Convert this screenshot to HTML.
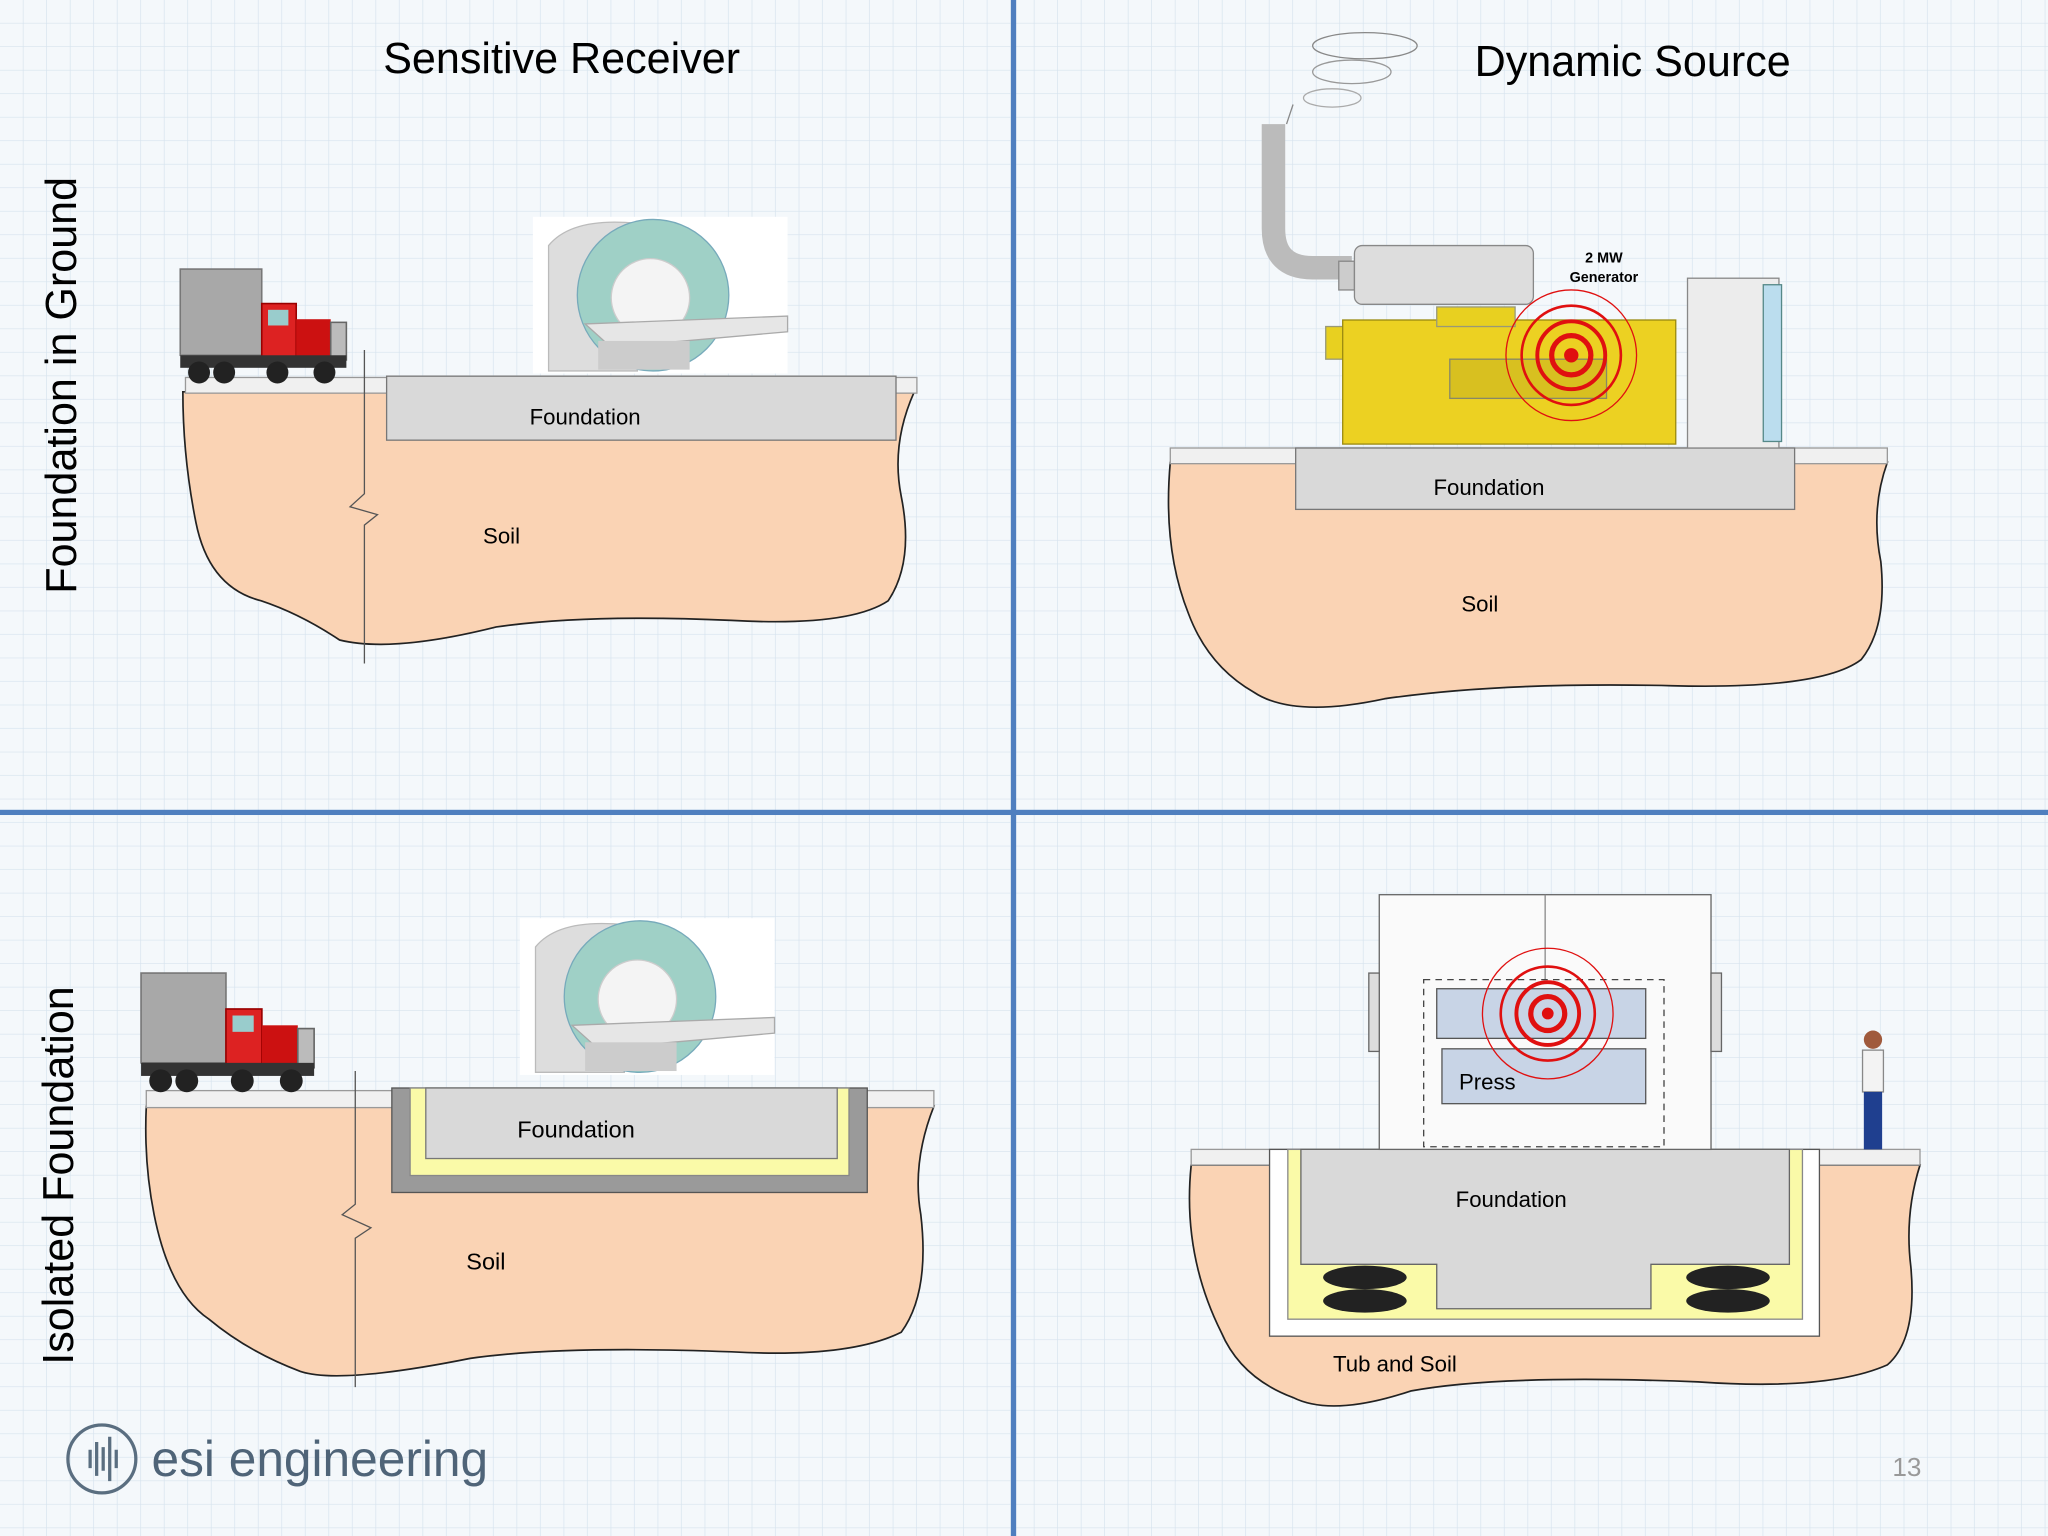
<!DOCTYPE html>
<html><head><meta charset="utf-8"><style>
html,body{margin:0;padding:0;background:#fff;}
svg{display:block}
text{font-family:"Liberation Sans",sans-serif}
</style></head><body>
<svg width="2048" height="1536" viewBox="0 0 1568 1176" xmlns="http://www.w3.org/2000/svg">
<defs>
<pattern id="g" width="18" height="18" patternUnits="userSpaceOnUse">
<rect width="18" height="18" fill="#f4f8fb"/>
<path d="M18 0V18M0 18H18" stroke="#d6e3ee" stroke-width="1"/>
</pattern>
<g id="truck">
<rect x="0" y="0" width="52" height="55" fill="#a8a8a8" stroke="#777"/>
<rect x="52" y="22" width="22" height="36" fill="#d22" stroke="#900"/>
<rect x="56" y="26" width="13" height="10" fill="#9cc"/>
<rect x="74" y="32" width="22" height="26" fill="#c11"/>
<rect x="96" y="34" width="10" height="24" fill="#bbb" stroke="#666"/>
<rect x="0" y="55" width="106" height="8" fill="#333"/>
<circle cx="12" cy="66" r="7" fill="#222"/><circle cx="28" cy="66" r="7" fill="#222"/>
<circle cx="62" cy="66" r="7" fill="#222"/><circle cx="92" cy="66" r="7" fill="#222"/>
</g>
<g id="mri">
<rect x="0" y="0" width="195" height="120" fill="#fff"/>
<path d="M12 22 Q30 0 80 5 L80 118 L12 118 Z" fill="#ddd" stroke="#bbb"/>
<circle cx="92" cy="60" r="58" fill="#9fd0c6" stroke="#7ab"/>
<circle cx="90" cy="62" r="30" fill="#f4f4f4" stroke="#ccc"/>
<path d="M40 82 L195 76 L195 88 L60 100 Z" fill="#e6e6e6" stroke="#aaa"/>
<rect x="50" y="95" width="70" height="22" fill="#ccc"/>
</g>
</defs>
<rect width="1568" height="1176" fill="url(#g)"/>
<rect x="774" y="0" width="4" height="1176" fill="#4f7fbf"/>
<rect x="0" y="620" width="1568" height="4" fill="#4f7fbf"/>

<text x="430" y="56" font-size="33" text-anchor="middle">Sensitive Receiver</text>
<text x="1250" y="58" font-size="33" text-anchor="middle">Dynamic Source</text>
<text transform="translate(58,295) rotate(-90)" font-size="33" text-anchor="middle">Foundation in Ground</text>
<text transform="translate(56,900) rotate(-90)" font-size="33" text-anchor="middle">Isolated Foundation</text>

<!-- Top-left -->
<path d="M140 300 L700 300 Q682 340 690 380 Q700 430 680 460 Q650 480 560 475 Q450 470 380 480 Q300 500 260 490 Q230 470 200 460 Q160 450 150 400 Q140 350 140 300Z" fill="#fad3b4" stroke="#222" stroke-width="1.3"/>
<rect x="142" y="289" width="560" height="12" fill="#f0f0f0" stroke="#999"/>
<rect x="296" y="288" width="390" height="49" fill="#d9d9d9" stroke="#777"/>
<text x="448" y="325" font-size="17" text-anchor="middle">Foundation</text>
<text x="384" y="416" font-size="17" text-anchor="middle">Soil</text>
<path d="M279 268 V378 L268 388 L289 394 L279 402 V508" fill="none" stroke="#555"/>
<use href="#truck" transform="translate(138,206) scale(1.2)"/>
<use href="#mri" x="408" y="166"/>

<!-- Top-right -->
<path d="M896 354 L1445 354 Q1432 390 1440 430 Q1445 480 1425 505 Q1395 528 1280 525 Q1150 522 1060 535 Q990 550 960 530 Q925 510 910 470 Q890 420 896 354Z" fill="#fad3b4" stroke="#222" stroke-width="1.3"/>
<rect x="896" y="343" width="549" height="12" fill="#f0f0f0" stroke="#999"/>
<rect x="992" y="343" width="382" height="47" fill="#d9d9d9" stroke="#777"/>
<text x="1140" y="379" font-size="17" text-anchor="middle">Foundation</text>
<text x="1133" y="468" font-size="17" text-anchor="middle">Soil</text>
<path d="M975 95 V175 Q975 205 1005 205 H1035" fill="none" stroke="#bbb" stroke-width="18"/>
<rect x="1025" y="200" width="12" height="22" fill="#ccc" stroke="#888"/>
<rect x="1037" y="188" width="137" height="45" rx="6" fill="#ddd" stroke="#888"/>
<ellipse cx="1045" cy="35" rx="40" ry="10" fill="none" stroke="#888"/>
<ellipse cx="1035" cy="55" rx="30" ry="9" fill="none" stroke="#999"/>
<ellipse cx="1020" cy="75" rx="22" ry="7" fill="none" stroke="#aaa"/>
<line x1="990" y1="80" x2="985" y2="95" stroke="#888"/>
<rect x="1015" y="250" width="40" height="25" fill="#e8d020" stroke="#997"/>
<rect x="1028" y="245" width="255" height="95" fill="#ecd122" stroke="#9a8a10"/>
<rect x="1100" y="235" width="60" height="15" fill="#e8d020" stroke="#997"/>
<rect x="1110" y="275" width="120" height="30" fill="#d8c020" stroke="#886"/>
<rect x="1292" y="213" width="70" height="130" fill="#ececec" stroke="#888"/>
<rect x="1350" y="218" width="14" height="120" fill="#bde" stroke="#588"/>
<text x="1228" y="201" font-size="11" font-weight="bold" text-anchor="middle">2 MW</text>
<text x="1228" y="216" font-size="11" font-weight="bold" text-anchor="middle">Generator</text>
<g fill="none" stroke="#e01010">
<circle cx="1203" cy="272" r="50" stroke-width="1"/>
<circle cx="1203" cy="272" r="38" stroke-width="2"/>
<circle cx="1203" cy="272" r="26" stroke-width="3"/>
<circle cx="1203" cy="272" r="15" stroke-width="4"/>
<circle cx="1203" cy="272" r="5" fill="#e01010"/>
</g>

<!-- Bottom-left -->
<path d="M112 847 L715 847 Q698 890 705 930 Q712 990 690 1020 Q650 1040 560 1035 Q430 1030 360 1040 Q260 1060 230 1050 Q190 1035 160 1010 Q130 990 118 930 Q110 890 112 847Z" fill="#fad3b4" stroke="#222" stroke-width="1.3"/>
<rect x="112" y="835" width="603" height="13" fill="#f0f0f0" stroke="#999"/>
<rect x="300" y="833" width="364" height="80" fill="#9a9a9a" stroke="#555"/>
<rect x="314" y="833" width="336" height="67" fill="#fafaa8" stroke="#888"/>
<rect x="326" y="833" width="315" height="54" fill="#d9d9d9" stroke="#777"/>
<text x="441" y="871" font-size="18" text-anchor="middle">Foundation</text>
<text x="372" y="972" font-size="18" text-anchor="middle">Soil</text>
<path d="M272 820 V922 L262 930 L284 940 L272 948 V1062" fill="none" stroke="#555"/>
<use href="#truck" transform="translate(108,745) scale(1.25)"/>
<use href="#mri" x="398" y="703"/>

<!-- Bottom-right -->
<path d="M912 892 L1470 892 Q1458 930 1463 970 Q1468 1025 1445 1045 Q1400 1065 1300 1058 Q1150 1052 1080 1065 Q1020 1085 990 1070 Q950 1055 935 1020 Q905 960 912 892Z" fill="#fad3b4" stroke="#222" stroke-width="1.3"/>
<rect x="912" y="880" width="558" height="12" fill="#f0f0f0" stroke="#999"/>
<rect x="972" y="880" width="421" height="143" fill="#fff" stroke="#555"/>
<rect x="986" y="880" width="394" height="130" fill="#fafaa8" stroke="#888"/>
<path d="M996 880 H1100 V845 H1264 V880 H1370 V968 H1264 V1002 H1100 V968 H996 Z" fill="#d9d9d9" stroke="#666"/>
<text x="1157" y="924" font-size="17" text-anchor="middle">Foundation</text>
<g fill="#222"><ellipse cx="1045" cy="978" rx="32" ry="9"/><ellipse cx="1045" cy="996" rx="32" ry="9"/><ellipse cx="1323" cy="978" rx="32" ry="9"/><ellipse cx="1323" cy="996" rx="32" ry="9"/></g>
<text x="1068" y="1050" font-size="17" text-anchor="middle">Tub and Soil</text>
<rect x="1056" y="685" width="254" height="195" fill="#fafafa" stroke="#666"/>
<rect x="1048" y="745" width="8" height="60" fill="#ddd" stroke="#666"/>
<rect x="1310" y="745" width="8" height="60" fill="#ddd" stroke="#666"/>
<line x1="1183" y1="685" x2="1183" y2="750" stroke="#888"/>
<rect x="1090" y="750" width="184" height="128" fill="none" stroke="#444" stroke-dasharray="5,4"/>
<rect x="1100" y="757" width="160" height="38" fill="#c8d4e6" stroke="#555"/>
<rect x="1104" y="803" width="156" height="42" fill="#c8d4e6" stroke="#555"/>
<text x="1117" y="834" font-size="17">Press</text>
<g fill="none" stroke="#e01010">
<circle cx="1185" cy="776" r="50" stroke-width="1"/>
<circle cx="1185" cy="776" r="36" stroke-width="2"/>
<circle cx="1185" cy="776" r="24" stroke-width="3"/>
<circle cx="1185" cy="776" r="13" stroke-width="4"/>
<circle cx="1185" cy="776" r="4" fill="#e01010"/>
</g>
<circle cx="1434" cy="796" r="7" fill="#a05a3c"/>
<rect x="1426" y="804" width="16" height="32" fill="#f3f3f3" stroke="#888"/>
<rect x="1427" y="836" width="14" height="44" fill="#1f3f8f"/>

<circle cx="78" cy="1117" r="26" fill="none" stroke="#5a6e80" stroke-width="2.5"/>
<path d="M69 1110v14M74 1104v26M79 1108v18M84 1100v34M89 1110v14" stroke="#5a6e80" stroke-width="2.5"/>
<text x="116" y="1130" font-size="38" fill="#4f6478">esi engineering</text>
<text x="1460" y="1130" font-size="20" fill="#999" text-anchor="middle">13</text>
</svg>
</body></html>
